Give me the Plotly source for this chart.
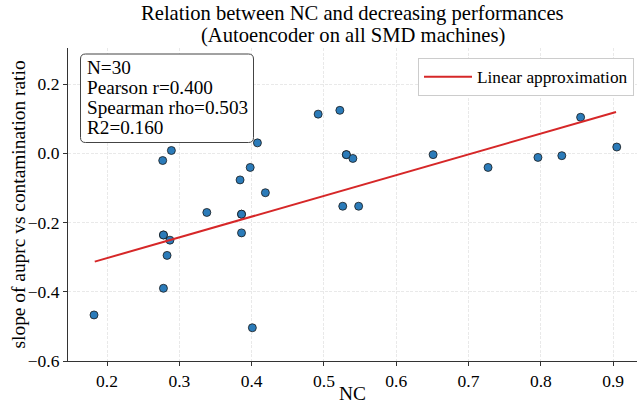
import plotly.graph_objects as go

# NC values (x) and slope of auprc vs contamination ratio (y)
nc = [0.492, 0.522, 0.408, 0.289, 0.277, 0.531, 0.540, 0.398, 0.384, 0.419,
      0.338, 0.386, 0.526, 0.548, 0.386, 0.278, 0.287, 0.283, 0.278, 0.182,
      0.401, 0.651, 0.727, 0.796, 0.829, 0.855, 0.905, 0.386, 0.531, 0.278]
slope = [0.113, 0.124, 0.030, 0.008, -0.021, -0.004, -0.015, -0.041, -0.077, -0.114,
         -0.171, -0.176, -0.153, -0.153, -0.230, -0.236, -0.251, -0.295, -0.390, -0.467,
         -0.504, -0.004, -0.041, -0.012, -0.007, 0.104, 0.018, -0.176, -0.004, -0.236]

# Linear approximation endpoints
fit_x = [0.183, 0.904]
fit_y = [-0.313, 0.119]

stats_lines = ["N=30", "Pearson r=0.400", "Spearman rho=0.503", "R2=0.160"]
x_ticks = [0.2, 0.3, 0.4, 0.5, 0.6, 0.7, 0.8, 0.9]
y_ticks = [-0.6, -0.4, -0.2, 0.0, 0.2]

FONT = "Liberation Serif"
AX = "#333333"
GRID = "#e9e9e9"

fig = go.Figure()
fig.add_trace(go.Scatter(
    x=nc, y=slope, mode="markers", showlegend=False,
    marker=dict(size=8, color="#2b7bb9", line=dict(color="#1a1a1a", width=0.8)),
))
fig.add_trace(go.Scatter(
    x=fit_x, y=fit_y, mode="lines", name="Linear approximation",
    line=dict(color="#d62728", width=2),
))

W, H = 638, 407
L, R, T, B = 68, 1, 48, 46
pw, ph = W - L - R, H - T - B

def px2paper_x(px):
    return (px - L) / pw

def py2paper_y(py):
    return (H - B - py) / ph

# stats box with rounded corners
bx0, bx1 = px2paper_x(80.5), px2paper_x(253.5)
by1, by0 = py2paper_y(54), py2paper_y(142.5)
rx, ry = 5 / pw, 5 / ph
path = (f"M {bx0+rx},{by1} L {bx1-rx},{by1} Q {bx1},{by1} {bx1},{by1-ry} "
        f"L {bx1},{by0+ry} Q {bx1},{by0} {bx1-rx},{by0} "
        f"L {bx0+rx},{by0} Q {bx0},{by0} {bx0},{by0+ry} "
        f"L {bx0},{by1-ry} Q {bx0},{by1} {bx0+rx},{by1} Z")
fig.add_shape(type="path", path=path, xref="paper", yref="paper",
              line=dict(color="#444444", width=1), fillcolor="white", layer="above")

annotations = []
for i, t in enumerate(stats_lines):
    annotations.append(dict(
        text=t, x=px2paper_x(85), y=py2paper_y(67 + i * 20.3), xref="paper", yref="paper",
        xanchor="left", yanchor="middle", showarrow=False,
        font=dict(family=FONT, size=19.2, color="black"),
    ))
annotations.append(dict(
    text="Relation between NC and decreasing performances", x=0.5, y=py2paper_y(13.5),
    xref="paper", yref="paper", xanchor="center", yanchor="middle", showarrow=False,
    font=dict(family=FONT, size=20.6, color="black")))
annotations.append(dict(
    text="(Autoencoder on all SMD machines)", x=0.5, y=py2paper_y(35.5),
    xref="paper", yref="paper", xanchor="center", yanchor="middle", showarrow=False,
    font=dict(family=FONT, size=20.6, color="black")))
annotations.append(dict(
    text="NC", x=0.5, y=py2paper_y(393),
    xref="paper", yref="paper", xanchor="center", yanchor="middle", showarrow=False,
    font=dict(family=FONT, size=19.4, color="black")))
annotations.append(dict(
    text="slope of auprc vs contamination ratio", x=px2paper_x(18), y=0.5, textangle=-90,
    xref="paper", yref="paper", xanchor="center", yanchor="middle", showarrow=False,
    font=dict(family=FONT, size=19.4, color="black")))

fig.update_layout(
    width=W, height=H,
    margin=dict(l=L, r=R, t=T, b=B, pad=0),
    paper_bgcolor="white", plot_bgcolor="white",
    font=dict(family=FONT, size=17, color="black"),
    annotations=annotations,
    legend=dict(
        x=px2paper_x(634), y=py2paper_y(58), xanchor="right", yanchor="top",
        bgcolor="white", bordercolor="#cccccc", borderwidth=1,
        itemwidth=48,
        font=dict(family=FONT, size=17.3, color="black"),
    ),
    xaxis=dict(
        range=[0.146, 0.933], tickvals=x_ticks, tickformat=".1f",
        tickfont=dict(family=FONT, size=17.5, color="black"),
        showline=True, linecolor=AX, linewidth=1.2, mirror=False,
        ticks="outside", ticklen=4, tickcolor=AX, tickwidth=1.2,
        showgrid=True, gridcolor=GRID, griddash="3px,1.5px", gridwidth=1.2,
        zeroline=False,
    ),
    yaxis=dict(
        range=[-0.6, 0.304], tickvals=y_ticks, tickformat=".1f",
        tickfont=dict(family=FONT, size=17.5, color="black"),
        showline=True, linecolor=AX, linewidth=1.2, mirror=False,
        ticks="outside", ticklen=4, tickcolor=AX, tickwidth=1.2,
        showgrid=True, gridcolor=GRID, griddash="3px,1.5px", gridwidth=1.2,
        zeroline=False,
    ),
)

fig.write_html("out.html")
